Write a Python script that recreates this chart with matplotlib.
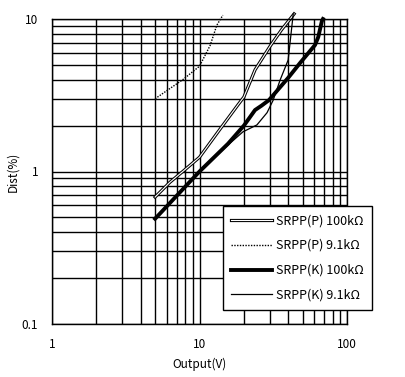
import matplotlib
matplotlib.use('Agg')
import matplotlib.pyplot as plt
import matplotlib.patheffects as pe

plt.rcParams['font.family'] = ['Noto Sans CJK JP', 'DejaVu Sans']
plt.rcParams['font.size'] = 8

# SRPP(P) 100k
p100_x = [5, 6.3, 7.7, 10, 13.8, 18.2, 20, 23.8, 30, 36, 43.8]
p100_y = [0.68, 0.85, 1.0, 1.24, 1.9, 2.73, 3.08, 4.64, 6.6, 8.5, 10.8]
# SRPP(P) 9.1k
p91_x = [5, 7.7, 10, 11.8, 13.1, 14.4]
p91_y = [3.0, 4.0, 4.9, 6.7, 9.1, 10.6]
# SRPP(K) 100k
k100_x = [5, 10, 15.6, 20, 23.8, 26.3, 29.6, 39.8, 48, 60.7, 63.8, 67.6, 68.7]
k100_y = [0.49, 1.0, 1.52, 2.0, 2.53, 2.7, 2.94, 4.1, 5.14, 6.75, 7.6, 9.7, 10.0]
# SRPP(K) 9.1k
k91_x = [5, 10, 15.6, 19.7, 24.5, 28.7, 31.6, 35.2, 39.9, 43.2]
k91_y = [0.49, 1.0, 1.49, 1.82, 2.02, 2.43, 2.94, 3.98, 5.38, 10.8]

labels = ['SRPP(P) 100kΩ', 'SRPP(P) 9.1kΩ', 'SRPP(K) 100kΩ', 'SRPP(K) 9.1kΩ']

fig = plt.figure(figsize=(4.05, 3.77), dpi=100)
ax = fig.add_axes([52/405, 1 - 324/377, 295/405, 305/377])
ax.set_xscale('log')
ax.set_yscale('log')
ax.set_xlim(1, 100)
ax.set_ylim(0.1, 10)

ax.grid(True, which='both', color='black', linewidth=1)
ax.set_axisbelow(True)
for s in ax.spines.values():
    s.set_linewidth(1)
ax.tick_params(which='both', length=0, pad=10, labelsize=8.5)
ax.set_xticks([1, 10, 100])
ax.set_xticklabels(['1', '10', '100'])
ax.set_yticks([0.1, 1, 10])
ax.set_yticklabels(['0.1', '1', '10'])

l1, = ax.plot(p100_x, p100_y, color='white', linewidth=0.8, clip_on=False,
              path_effects=[pe.Stroke(linewidth=2.3, foreground='black'), pe.Normal()])
l2, = ax.plot(p91_x, p91_y, color='black', linewidth=1, linestyle=(0, (1, 1)), clip_on=False)
l3, = ax.plot(k100_x, k100_y, color='black', linewidth=2.8, clip_on=False)
l4, = ax.plot(k91_x, k91_y, color='black', linewidth=0.9, clip_on=False)

ax.set_xlabel('Output(V)', labelpad=5, fontsize=8.5)
ax.set_ylabel('Dist(%)', labelpad=2, fontsize=8.5)

leg = fig.legend([l1, l2, l3, l4], labels, loc='upper left', fontsize=9,
                 bbox_to_anchor=(223/405, 1 - 206/377), borderaxespad=0,
                 frameon=True, fancybox=False, framealpha=1, edgecolor='black',
                 handlelength=3.3, handletextpad=0.3, labelspacing=0.95, borderpad=0.65)
leg.get_frame().set_linewidth(1)

fig.savefig('out.png', dpi=100)
